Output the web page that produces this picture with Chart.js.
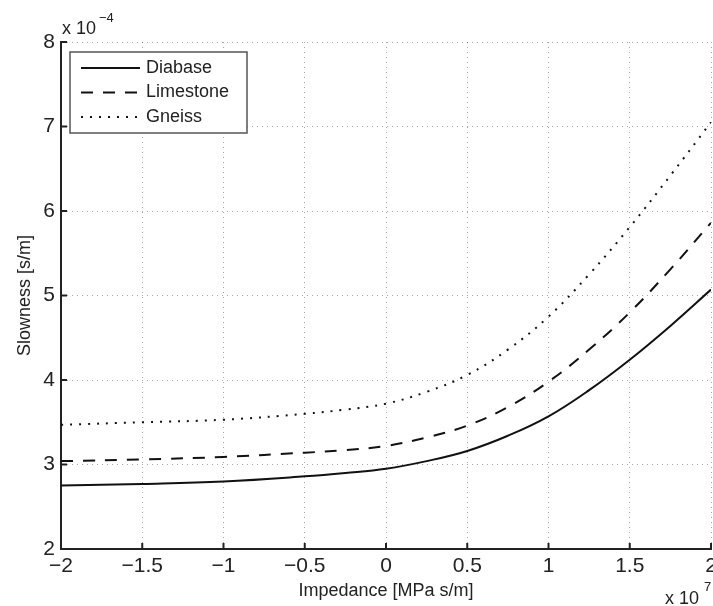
<!DOCTYPE html>
<html>
<head>
<meta charset="utf-8">
<script src="https://cdn.jsdelivr.net/npm/chart.js@4"></script>
<style>
  html, body { margin: 0; padding: 0; background: #fff; }
  #wrap { width: 713px; height: 606px; }
</style>
</head>
<body>
<div id="wrap"><canvas id="slownessChart"></canvas></div>
<script>
// impedance in units of 1e7 MPa s/m, slowness in units of 1e-4 s/m
const impedance = [-2, -1.5, -1, -0.5, -0.25, 0, 0.25, 0.5, 0.75, 1, 1.25, 1.5, 1.75, 2],
    diabase = [2.75, 2.77, 2.80, 2.86, 2.90, 2.95, 3.04, 3.16, 3.34, 3.57, 3.88, 4.24, 4.64, 5.07],
    limestone = [3.04, 3.06, 3.09, 3.14, 3.17, 3.22, 3.32, 3.46, 3.68, 3.98, 4.36, 4.80, 5.31, 5.86],
    gneiss = [3.47, 3.50, 3.53, 3.60, 3.65, 3.72, 3.86, 4.06, 4.36, 4.75, 5.25, 5.81, 6.42, 7.05],
    seriesNames = ['Diabase', 'Limestone', 'Gneiss'],
    xTicks = [-2, -1.5, -1, -0.5, 0, 0.5, 1, 1.5, 2],
    yTicks = [2, 3, 4, 5, 6, 7, 8];

const font = '"Liberation Sans", Arial, sans-serif';
const ctx = document.getElementById('slownessChart').getContext('2d');

const toPoints = arr => arr.map((v, i) => ({ x: impedance[i], y: v }));
const fmt = v => (v < 0 ? '\u2212' + Math.abs(v) : String(v));

// inward tick marks, legend box and the exponent labels
const extras = {
    id: 'extras',
    afterDatasetsDraw(chart) {
        const c = chart.ctx, xs = chart.scales.x, ys = chart.scales.y, a = chart.chartArea;
        c.save();
        c.strokeStyle = '#222';
        c.lineWidth = 2;
        xTicks.forEach(t => {
            const px = xs.getPixelForValue(t);
            c.beginPath(); c.moveTo(px, a.bottom); c.lineTo(px, a.bottom - 6); c.stroke();
        });
        yTicks.forEach(t => {
            const py = ys.getPixelForValue(t);
            c.beginPath(); c.moveTo(a.left, py); c.lineTo(a.left + 6, py); c.stroke();
        });

        // legend
        const lx = a.left + 9, ly = a.top + 10, lw = 177, lh = 81;
        c.fillStyle = '#fff';
        c.fillRect(lx, ly, lw, lh);
        c.lineWidth = 1.5;
        c.strokeStyle = '#555';
        c.strokeRect(lx, ly, lw, lh);
        c.font = '18px ' + font;
        c.textBaseline = 'middle';
        chart.data.datasets.forEach((ds, i) => {
            const y = ly + 16 + i * 24.5;
            c.strokeStyle = ds.borderColor;
            c.lineWidth = ds.borderWidth;
            c.setLineDash(ds.borderDash || []);
            c.beginPath(); c.moveTo(lx + 11, y); c.lineTo(lx + 70, y); c.stroke();
            c.setLineDash([]);
            c.fillStyle = '#222';
            c.fillText(ds.label, lx + 76, y);
        });

        // multipliers
        c.fillStyle = '#222';
        c.textBaseline = 'alphabetic';
        c.font = '18px ' + font;
        c.fillText('x 10', a.left + 1, a.top - 8);
        c.font = '13px ' + font;
        c.fillText('\u22124', a.left + 38, a.top - 20);
        c.font = '18px ' + font;
        c.fillText('x 10', 665, 604);
        c.font = '13px ' + font;
        c.fillText('7', 704, 591);
        c.restore();
    }
};

const lineStyle = (label, data, dash) => ({
    label: label,
    data: toPoints(data),
    borderColor: '#111',
    borderWidth: 2,
    borderDash: dash,
    pointRadius: 0,
    fill: false,
    tension: 0.4
});

new Chart(ctx, {
    type: 'line',
    data: {
        datasets: [
            lineStyle(seriesNames[0], diabase, []),
            lineStyle(seriesNames[1], limestone, [12, 10]),
            lineStyle(seriesNames[2], gneiss, [2, 7])
        ]
    },
    options: {
        responsive: true,
        maintainAspectRatio: false,
        animation: false,
        layout: { padding: { top: 42, right: 2, left: 0, bottom: 0 } },
        plugins: { legend: { display: false }, tooltip: { enabled: false } },
        scales: {
            x: {
                type: 'linear',
                min: -2,
                max: 2,
                afterBuildTicks: s => { s.ticks = xTicks.map(v => ({ value: v })); },
                afterFit: s => { s.height = 57; s.paddingRight = 0; s.paddingLeft = 0; },
                ticks: {
                    color: '#222',
                    font: { family: font, size: 21 },
                    padding: 5,
                    maxRotation: 0,
                    callback: v => fmt(v)
                },
                grid: { color: 'rgba(0,0,0,0.35)', lineWidth: 1, drawTicks: false },
                border: { display: true, color: '#222', width: 2, dash: [1, 4] },
                title: {
                    display: true,
                    text: 'Impedance [MPa s/m]',
                    color: '#222',
                    font: { family: font, size: 18 },
                    padding: { top: 0, bottom: 4 }
                }
            },
            y: {
                min: 2,
                max: 8,
                afterBuildTicks: s => { s.ticks = yTicks.map(v => ({ value: v })); },
                afterFit: s => { s.width = 61; },
                ticks: {
                    color: '#222',
                    font: { family: font, size: 21 },
                    padding: 6,
                    callback: v => fmt(v)
                },
                grid: { color: 'rgba(0,0,0,0.35)', lineWidth: 1, drawTicks: false },
                border: { display: true, color: '#222', width: 2, dash: [1, 4] },
                title: {
                    display: true,
                    text: 'Slowness [s/m]',
                    color: '#222',
                    font: { family: font, size: 18 },
                    padding: { top: 14, bottom: 0 }
                }
            }
        }
    },
    plugins: [extras]
});
</script>
</body>
</html>
